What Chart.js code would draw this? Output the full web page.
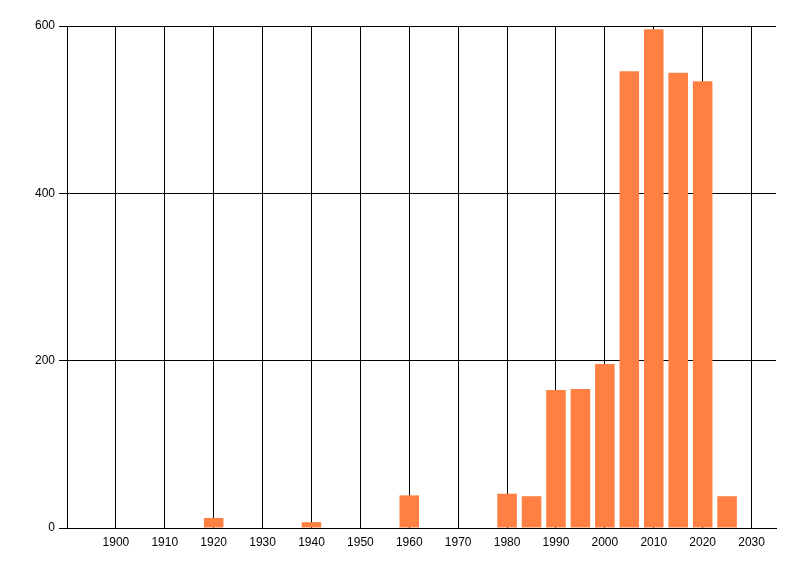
<!DOCTYPE html>
<html>
<head>
<meta charset="utf-8">
<script src="https://cdn.jsdelivr.net/npm/chart.js@4"></script>
<style>
  html, body { margin: 0; padding: 0; background: #fff; }
  #wrap { width: 800px; height: 576px; }
</style>
</head>
<body>
<div id="wrap"><canvas id="myChart"></canvas></div>
<script>
// values
const years = [1920, 1940, 1960, 1980, 1985, 1990, 1995, 2000, 2005, 2010, 2015, 2020, 2025];
const counts = [12, 7, 39, 41, 38, 165, 166, 196, 546, 596, 544, 534, 38];
const xTicks = [1900, 1910, 1920, 1930, 1940, 1950, 1960, 1970, 1980, 1990, 2000, 2010, 2020, 2030];
const yTicks = [0, 200, 400, 600];

const ctx = document.getElementById('myChart');

let chartdata = {
  type: 'bar',
  data: {
    datasets: [{
      data: years.map((y, i) => ({ x: y, y: counts[i] })),
      backgroundColor: '#FF8042',
      borderWidth: 0,
      barPercentage: 0.8,
      categoryPercentage: 1.0
    }]
  },
  options: {
    responsive: true,
    maintainAspectRatio: false,
    animation: false,
    layout: { padding: { left: 0, top: 26, right: 24, bottom: 0 } },
    plugins: { legend: { display: false }, tooltip: { enabled: false } },
    scales: {
      x: {
        type: 'linear',
        min: 1890,
        max: 2035,
        offset: false,
        afterBuildTicks: axis => { axis.ticks = xTicks.map(v => ({ value: v })); },
        afterFit: axis => { axis.height = 48; },
        grid: { color: '#000', lineWidth: 1, drawTicks: false, offset: false },
        border: { color: '#000', width: 1 },
        ticks: {
          color: '#000',
          font: { family: 'Liberation Sans', size: 12 },
          padding: 7,
          maxRotation: 0,
          autoSkip: false,
          callback: v => String(v)
        }
      },
      y: {
        min: 0,
        max: 600,
        afterBuildTicks: axis => { axis.ticks = yTicks.map(v => ({ value: v })); },
        afterFit: axis => { axis.width = 67; },
        grid: { color: '#000', lineWidth: 1, tickLength: 8 },
        border: { color: '#000', width: 1 },
        ticks: {
          color: '#000',
          font: { family: 'Liberation Sans', size: 12 },
          padding: 4
        }
      }
    }
  }
};

let mychart = new Chart(ctx, chartdata);
</script>
</body>
</html>
